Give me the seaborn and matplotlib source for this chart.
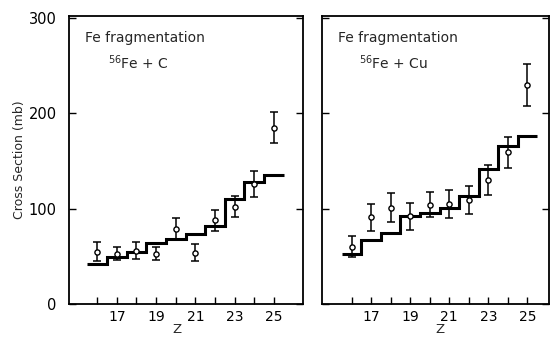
import numpy as np
import matplotlib
matplotlib.use("Agg")
import matplotlib.pyplot as plt
import seaborn as sns

# charge Z of the fragment
z = [16, 17, 18, 19, 20, 21, 22, 23, 24, 25]

# Fe + C: measured cross sections (mb), errors, and calculated histogram
c_meas = [55, 53, 56, 53, 79, 54, 88, 102, 126, 185]
c_err = [10, 7, 9, 7, 11, 9, 11, 11, 14, 16]
c_calc = [42, 49, 55, 63.5, 68, 73, 82, 110, 128, 135]

# Fe + Cu
cu_meas = [60, 91, 101, 92, 104, 105, 109, 130, 159, 230]
cu_err = [11, 14, 15, 14, 13, 15, 15, 16, 16, 22]
cu_calc = [52.6, 67, 75, 92, 95.5, 100.7, 113, 142, 166, 176]

panel_titles = ["$^{56}$Fe + C", "$^{56}$Fe + Cu"]

sns.set_style("ticks")
plt.rcParams["font.family"] = ["DejaVu Sans"]

fig = plt.figure(figsize=(5.5, 3.39), dpi=100)
ax1 = fig.add_axes([0.1255, 0.103, 0.4255, 0.850])
ax2 = fig.add_axes([0.585, 0.103, 0.413, 0.850])

edges = np.append(np.array(z) - 0.5, z[-1] + 0.5)

panels = [
    (ax1, c_meas, c_err, c_calc, (14.57, 26.48), 0.46),
    (ax2, cu_meas, cu_err, cu_calc, (14.47, 26.1), 0.52),
]

for i, (ax, meas, err, calc, xl, zx) in enumerate(panels):
    ax.stairs(calc, edges, color="black", linewidth=2.2, baseline=None, zorder=2)
    ax.errorbar(z, meas, yerr=err, fmt="none", ecolor="black",
                elinewidth=1.1, capsize=2.8, capthick=1.1, zorder=3)
    sns.scatterplot(x=z, y=meas, ax=ax, marker="o", s=14, facecolor="white",
                    edgecolor="black", linewidth=1.0, zorder=4)
    ax.set_xlim(*xl)
    ax.set_ylim(0, 302)
    ax.set_xticks(z)
    ax.set_xticklabels([str(v) if v % 2 == 1 else "" for v in z], fontsize=10)
    ax.set_yticks([0, 100, 200, 300])
    ax.tick_params(axis="both", direction="in", length=5, width=1,
                   right=True, colors="black")
    ax.tick_params(axis="x", pad=4)
    ax.tick_params(axis="y", pad=9)
    for sp in ax.spines.values():
        sp.set_linewidth(1.3)
        sp.set_color("black")
    ax.set_xlabel("Z", fontsize=9.5, labelpad=0)
    ax.xaxis.set_label_coords(zx, -0.065)
    ax.text(0.07, 0.91, "Fe fragmentation", transform=ax.transAxes, fontsize=10)
    ax.text(0.165, 0.815, panel_titles[i], transform=ax.transAxes, fontsize=10)

ax1.set_ylabel("Cross Section (mb)", fontsize=9, labelpad=2)
ax1.set_yticklabels(["0", "100", "200", "300"], fontsize=10.5)
ax2.set_yticklabels([])

fig.savefig("out.png", dpi=100)
